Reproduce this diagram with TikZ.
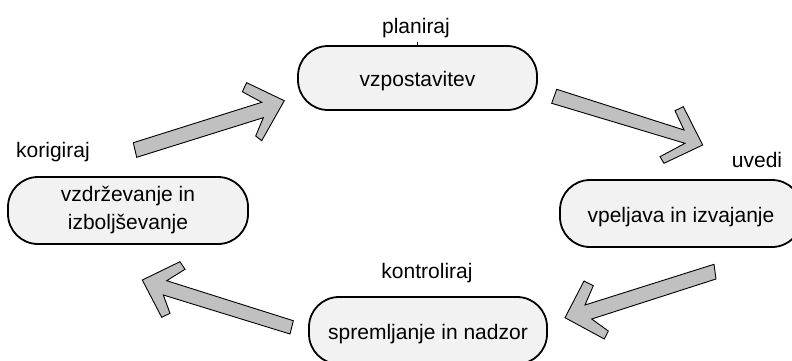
\documentclass[tikz,border=0pt]{standalone}
\usepackage{fontspec}
\setmainfont{Liberation Sans}
\definecolor{boxfill}{HTML}{F2F2F2}
\definecolor{arrowfill}{HTML}{C0C0C0}
\tikzset{
  phase/.style={draw=black, line width=1.8pt, fill=boxfill, rounded corners=30pt,
    inner sep=0pt, text height=17pt, text depth=0pt, align=center},
  lbl/.style={anchor=base, inner sep=0pt},
  bigarrow/.style={draw=black, line width=0.9pt, fill=arrowfill, line join=miter},
}
\begin{document}
\begin{tikzpicture}[x=1pt, y=-1pt, font=\fontsize{21}{28}\selectfont]
\useasboundingbox (0,0) rectangle (792,361);
% boxes
\node[phase, minimum width=239pt, minimum height=64pt] (top) at (417.5,78) {vzpostavitev};
\node[phase, minimum width=240pt, minimum height=67pt, text height=, text depth=] (left) at (128,210.5) {vzdrževanje in\\izboljševanje};
\node[phase, minimum width=242pt, minimum height=67pt] (right) at (681,213.5) {vpeljava in izvajanje};
\node[phase, minimum width=238pt, minimum height=67pt] (bottom) at (428,330.5) {spremljanje in nadzor};
% labels
\node[lbl] (lplan) at (416,34) {planiraj};
\node[lbl] (lkor) at (53,157) {korigiraj};
\node[lbl] (luv) at (757,167) {uvedi};
\node[lbl] (lkon) at (427,278) {kontroliraj};
\draw[line width=0.8pt] (top.north) ++(0,-0.5) -- ++(0,-2.5);
% big arrows
\draw[bigarrow] (136.7,157.3) -- (133.3,142.7) -- (261.7,102.3) -- (242.3,91.7) -- (246.7,82.7) -- (284.3,100.7) -- (261.7,140.7) -- (255.7,136) -- (263.3,117.7) -- cycle;
\draw[bigarrow] (556.7,89.3) -- (551.7,103.3) -- (685,143.3) -- (660,156.7) -- (664,163.3) -- (702.7,145) -- (683.3,106.7) -- (675,110.7) -- (684,130) -- cycle;
\draw[bigarrow] (714,264.3) -- (716,279) -- (591.7,319) -- (608.3,331) -- (604.3,339) -- (565,317.7) -- (584,281) -- (593.3,285.7) -- (585,305) -- cycle;
\draw[bigarrow] (290,334) -- (293.3,320.7) -- (166.7,280.7) -- (185,269.3) -- (180,261.7) -- (142.3,280) -- (161.7,317.3) -- (170,313.3) -- (163.3,295) -- cycle;
\end{tikzpicture}
\end{document}
